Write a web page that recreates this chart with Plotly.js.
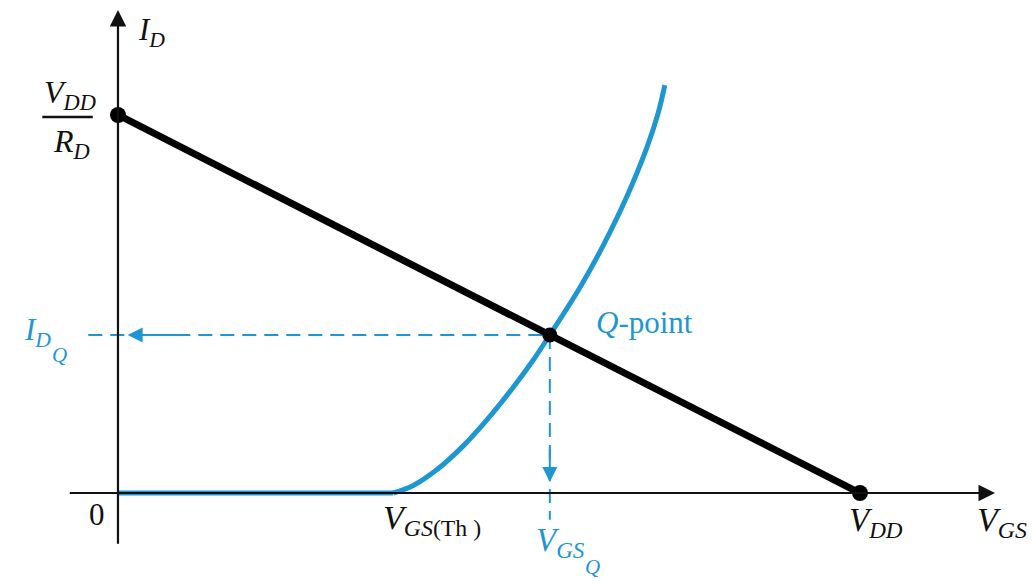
<!DOCTYPE html>
<html>
<head>
<meta charset="utf-8">
<script src="https://cdn.plot.ly/plotly-3.0.1.min.js"></script>
<style>
  html, body { margin: 0; padding: 0; background: #fff; }
  #chart { width: 1033px; height: 584px; }
</style>
</head>
<body>
<div id="chart"></div>
<script>
// 資料：VDD = 10, VDD/RD = 10（相對單位）
const loadLineX = [0, 10];
const loadLineY = [10, 0];

// 臨界電壓 VGS(Th)
const vgsTh = 3.71;

// 轉移特性曲線（從圖上讀取，自 VGS(Th) 起）
const curveX = [3.71, 3.98, 4.30, 4.65, 5.01, 5.32, 5.59, 5.82, 6.23, 6.54, 6.86, 7.13, 7.28, 7.37];
const curveY = [0, 0.20, 0.62, 1.24, 2.02, 2.78, 3.50, 4.18, 5.45, 6.55, 7.85, 9.15, 10.05, 10.79];

// 工作點
const qX = 5.82;
const qY = 4.18;

const endPointsX = [0, 10];
const endPointsY = [10, 0];

const BLUE = '#1e96d2';
const SERIF = 'Liberation Serif, DejaVu Serif, serif';

const traces = [
    // VGS < VGS(Th) 時 ID = 0
    {
        x: [0, vgsTh], y: [0, 0],
        type: 'scatter', mode: 'lines',
        line: { color: BLUE, width: 5 },
        hoverinfo: 'skip'
    },
    // 轉移特性曲線
    {
        x: curveX, y: curveY,
        type: 'scatter', mode: 'lines',
        line: { color: BLUE, width: 5, shape: 'spline', smoothing: 1 },
        hoverinfo: 'skip'
    },
    // 水平虛線
    {
        x: [-0.40, qX], y: [qY, qY],
        type: 'scatter', mode: 'lines',
        line: { color: BLUE, width: 2, dash: '14px,8px' },
        hoverinfo: 'skip'
    },
    // 垂直虛線
    {
        x: [qX, qX], y: [qY, -0.71],
        type: 'scatter', mode: 'lines',
        line: { color: BLUE, width: 2, dash: '14px,8px' },
        hoverinfo: 'skip'
    },
    // 負載線
    {
        x: loadLineX, y: loadLineY,
        type: 'scatter', mode: 'lines',
        line: { color: '#000', width: 7 },
        hoverinfo: 'skip'
    },
    // 端點
    {
        x: endPointsX, y: endPointsY,
        type: 'scatter', mode: 'markers',
        marker: { color: '#000', size: 16 },
        hoverinfo: 'skip'
    },
    // Q 點
    {
        x: [qX], y: [qY],
        type: 'scatter', mode: 'markers',
        marker: { color: '#000', size: 15 },
        hoverinfo: 'skip'
    }
];

// 箭頭（座標軸與虛線）
function arrow(x0, y0, x1, y1, color, width, size) {
    return {
        x: x1, y: y1, ax: x0, ay: y0,
        xref: 'x', yref: 'y', axref: 'x', ayref: 'y',
        text: '', showarrow: true,
        arrowhead: 2, arrowsize: size, arrowwidth: width, arrowcolor: color
    };
}

function label(x, y, text, size, color, opts) {
    return Object.assign({
        x: x, y: y, xref: 'x', yref: 'y',
        text: text, showarrow: false,
        font: { family: SERIF, size: size, color: color || '#111' }
    }, opts || {});
}

const annotations = [
    arrow(0, -1.38, 0, 12.78, '#111', 2.2, 1.5),
    arrow(-0.67, 0, 11.82, 0, '#111', 2.2, 1.5),
    arrow(0.9, qY, 0.13, qY, BLUE, 2, 1.5),
    arrow(qX, 1.2, qX, 0.29, BLUE, 2, 1.5),

    label(0.45, 12.2, '<i>I</i><sub><i>D</i></sub>', 31),
    label(-0.64, 10.53, '<i>V</i><sub><i>DD</i></sub>', 32),
    label(-0.62, 9.24, '<i>R</i><sub><i>D</i></sub>', 32),
    label(-1.08, 4.25, '<i>I</i><sub><i>D</i></sub>', 31, BLUE),
    label(-0.79, 3.66, '<i>Q</i>', 21, BLUE),
    label(-0.28, -0.58, '0', 31),
    label(4.23, -0.72, '<i>V</i><sub><i>GS</i>(Th )</sub>', 34),
    label(5.97, -1.32, '<i>V</i><sub><i>GS</i></sub>', 33, BLUE),
    label(6.40, -1.96, '<i>Q</i>', 21, BLUE),
    label(10.22, -0.77, '<i>V</i><sub><i>DD</i></sub>', 33),
    label(11.91, -0.77, '<i>V</i><sub><i>GS</i></sub>', 34),
    label(6.41, 4.52, '<i>Q</i>-point', 31, BLUE, { xanchor: 'left' })
];

// 分數線 VDD / RD
const shapes = [
    {
        type: 'line', xref: 'x', yref: 'y',
        x0: -1.02, x1: -0.34, y0: 9.95, y1: 9.95,
        line: { color: '#111', width: 2.5 }
    }
];

const layout = {
    width: 1033,
    height: 584,
    margin: { l: 0, r: 0, t: 0, b: 0 },
    paper_bgcolor: '#fff',
    plot_bgcolor: '#fff',
    showlegend: false,
    font: { family: SERIF },
    xaxis: {
        range: [-1.590, 12.332],
        visible: false, fixedrange: true
    },
    yaxis: {
        range: [-2.407, 13.042],
        visible: false, fixedrange: true
    },
    annotations: annotations,
    shapes: shapes
};

Plotly.newPlot('chart', traces, layout, { displayModeBar: false, staticPlot: true });
</script>
</body>
</html>
